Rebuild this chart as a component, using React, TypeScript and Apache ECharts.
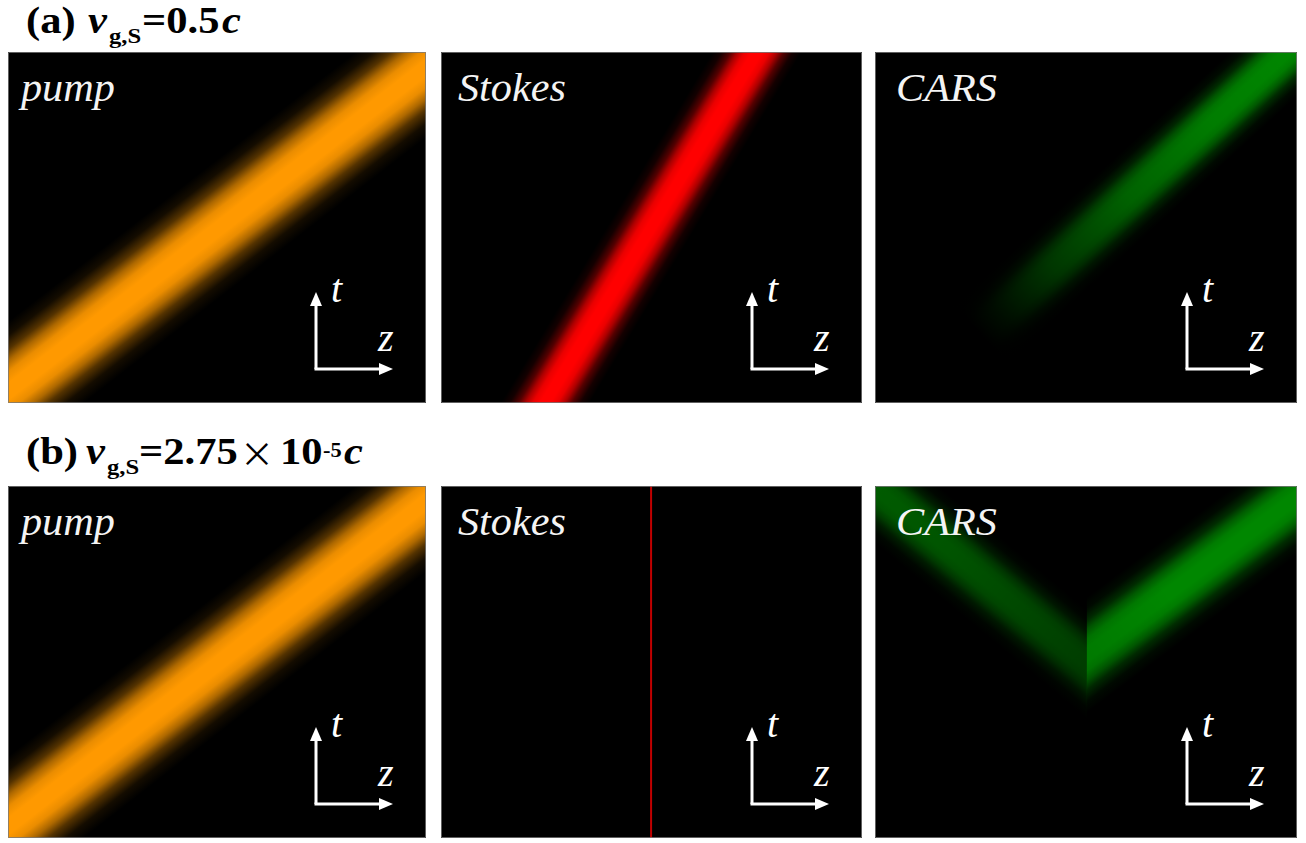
import React, { useEffect, useRef } from 'react';
import * as echarts from 'echarts';

// ---------- data ----------
const PANEL_LABELS = ['pump', 'Stokes', 'CARS'];
const AXIS_LABELS = ['t', 'z'];
const TITLE_A_PARTS = ['(a)', 'v', 'g,S', '=0.5', 'c'];
const TITLE_B_PARTS = ['(b)', 'v', 'g,S', '=2.75', '×', '10', '-5', 'c'];

const Z_EXTENT = [0, 1];
const T_EXTENT = [0, 1];

// band centre line [z0, t0, z1, t1] and vertical half width (t units)
const PUMP_LINE = [-0.15, -0.106, 1.15, 1.094];
const PUMP_HALF_WIDTH = 0.2;
const PUMP_ALONG = [[0, 1], [1, 1]];

const STOKES_A_LINE = [0.1, -0.292, 0.9, 1.295];
const STOKES_A_HALF_WIDTH = 0.21;
const STOKES_A_ALONG = [[0, 1], [1, 1]];

const STOKES_B_Z = 0.499;

const CARS_A_LINE = [-0.1, -0.189, 1.15, 1.189];
const CARS_A_HALF_WIDTH = 0.15;
const CARS_A_ALONG = [[0, 0], [0.28, 0], [0.32, 0.1], [0.416, 0.4], [0.56, 0.72], [0.72, 0.92], [0.88, 1], [1, 1]];

const CARS_B_LEFT_LINE = [-0.15, 1.144, 0.502, 0.494];
const CARS_B_LEFT_HALF_WIDTH = 0.155;
const CARS_B_LEFT_ALONG = [[0, 0.72], [0.5, 0.62], [1, 0.45]];

const CARS_B_RIGHT_LINE = [0.502, 0.52, 1.15, 1.103];
const CARS_B_RIGHT_HALF_WIDTH = 0.165;
const CARS_B_RIGHT_ALONG = [[0, 0.9], [0.3, 1], [1, 1]];

// intensity across a band (edge -> centre -> edge)
const CROSS_PROFILE = [
  [0, 0], [0.1, 0.08], [0.2, 0.33], [0.28, 0.68], [0.36, 0.92], [0.44, 1],
  [0.56, 1], [0.64, 0.92], [0.72, 0.68], [0.8, 0.33], [0.9, 0.08], [1, 0],
];

// ---------- layout & style ----------
const COL_X = [8, 441, 875];
const COL_W = [418, 421, 422];
const ROW_Y = [52, 486];
const ROW_H = [351, 352];

const PUMP_RGB = '255,153,0';
const STOKES_RGB = '255,0,0';
const CARS_RGB = '0,135,0';
const SERIF = 'Liberation Serif, Times New Roman, serif';

function baselineY(baseline: number, size: number) {
  return baseline - 0.34 * size;
}

function makeBand(gridIndex: number, line: number[], hw: number, rgb: string, along: number[][]) {
  return {
    type: 'custom',
    xAxisIndex: gridIndex,
    yAxisIndex: gridIndex,
    clip: true,
    silent: true,
    data: [[line[0], line[1], line[2], line[3], hw]],
    renderItem: (params: any, api: any) => {
      const z0 = api.value(0), t0 = api.value(1), z1 = api.value(2), t1 = api.value(3), h = api.value(4);
      const a = api.coord([z0, t0 - h]);
      const b = api.coord([z1, t1 - h]);
      const c = api.coord([z1, t1 + h]);
      const d = api.coord([z0, t0 + h]);
      const c0 = api.coord([z0, t0]);
      const c1 = api.coord([z1, t1]);
      const dx = c1[0] - c0[0], dy = c1[1] - c0[1];
      const len = Math.hypot(dx, dy);
      const nx = -dy / len, ny = dx / len;
      const hPx = Math.abs(d[1] - c0[1]);
      const perp = (hPx * Math.abs(dx)) / len;
      const cross = new echarts.graphic.LinearGradient(
        c0[0] - nx * perp, c0[1] - ny * perp, c0[0] + nx * perp, c0[1] + ny * perp,
        CROSS_PROFILE.map(([o, v]) => ({ offset: o, color: `rgba(${rgb},${v})` })),
        true
      );
      const pts = [a, b, c, d];
      const children: any[] = [{ type: 'polygon', shape: { points: pts }, style: { fill: cross } }];
      if (along.some(([, v]) => v < 1)) {
        const fade = new echarts.graphic.LinearGradient(
          c0[0], c0[1], c1[0], c1[1],
          along.map(([o, v]) => ({ offset: o, color: `rgba(0,0,0,${(1 - v).toFixed(3)})` })),
          true
        );
        children.push({ type: 'polygon', shape: { points: pts }, style: { fill: fade } });
      }
      return { type: 'group', children };
    },
  };
}

function titleParts(parts: string[], xs: number[], baselines: number[], sizes: number[], italic: boolean[]) {
  return parts.map((p, i) => {
    const cjk = p === '×';
    return {
      type: 'text',
      z: 100,
      x: xs[i],
      y: baselineY(baselines[i], sizes[i]),
      scaleX: cjk ? 1 : 1.12,
      style: {
        text: p,
        fill: '#000',
        fontFamily: cjk ? 'Noto Sans CJK SC, sans-serif' : SERIF,
        fontWeight: cjk ? 'normal' : 'bold',
        fontStyle: italic[i] ? 'italic' : 'normal',
        fontSize: sizes[i],
        verticalAlign: 'middle',
        textAlign: 'left',
      },
    };
  });
}

function buildOption() {
  const grids: any[] = [];
  const xAxes: any[] = [];
  const yAxes: any[] = [];
  const graphics: any[] = [];
  for (let r = 0; r < 2; r++) {
    for (let c = 0; c < 3; c++) {
      const gi = r * 3 + c;
      grids.push({
        left: COL_X[c], top: ROW_Y[r], width: COL_W[c], height: ROW_H[r],
        show: true, backgroundColor: '#000', borderWidth: 0,
      });
      xAxes.push({ type: 'value', gridIndex: gi, min: Z_EXTENT[0], max: Z_EXTENT[1], show: false });
      yAxes.push({ type: 'value', gridIndex: gi, min: T_EXTENT[0], max: T_EXTENT[1], show: false });

      // thin grey frame drawn above the bands
      graphics.push({
        type: 'rect', z: 90, silent: true,
        shape: { x: COL_X[c] + 0.5, y: ROW_Y[r] + 0.5, width: COL_W[c] - 1, height: ROW_H[r] - 1 },
        style: { fill: 'none', stroke: 'rgba(120,120,120,0.8)', lineWidth: 1 },
      });

      const labelDx = [13, 17, 21][c];
      graphics.push({
        type: 'text', z: 100,
        x: COL_X[c] + labelDx, y: baselineY(ROW_Y[r] + 49, 41),
        scaleX: 1.03,
        style: {
          text: PANEL_LABELS[c], fill: '#f4f4f4', fontFamily: SERIF, fontStyle: 'italic',
          fontSize: 41, verticalAlign: 'middle', textAlign: 'left',
        },
      });

      const cx = COL_X[c] + COL_W[c] - 110;
      const cy = ROW_Y[r] + ROW_H[r] - 34;
      const L = 77;
      graphics.push(
        { type: 'line', z: 100, shape: { x1: cx, y1: cy, x2: cx, y2: cy - L + 10 }, style: { stroke: '#fff', lineWidth: 3 } },
        { type: 'line', z: 100, shape: { x1: cx - 1.5, y1: cy, x2: cx + L - 10, y2: cy }, style: { stroke: '#fff', lineWidth: 3 } },
        { type: 'polygon', z: 100, shape: { points: [[cx, cy - L], [cx - 6, cy - L + 14], [cx + 6, cy - L + 14]] }, style: { fill: '#fff' } },
        { type: 'polygon', z: 100, shape: { points: [[cx + L, cy], [cx + L - 14, cy - 6], [cx + L - 14, cy + 6]] }, style: { fill: '#fff' } },
        {
          type: 'text', z: 100, x: cx + 15, y: baselineY(cy - 67, 40),
          style: { text: AXIS_LABELS[0], fill: '#fff', fontFamily: SERIF, fontStyle: 'italic', fontSize: 40, verticalAlign: 'middle' },
        },
        {
          type: 'text', z: 100, x: cx + 62, y: baselineY(cy - 18, 40),
          style: { text: AXIS_LABELS[1], fill: '#fff', fontFamily: SERIF, fontStyle: 'italic', fontSize: 40, verticalAlign: 'middle' },
        }
      );
    }
  }

  graphics.push(
    ...titleParts(TITLE_A_PARTS, [26, 88, 109, 142, 222], [33, 33, 43, 33, 33], [38, 38, 22, 38, 38], [false, true, false, false, true]),
    ...titleParts(TITLE_B_PARTS, [26, 86, 107, 139, 240, 280, 323, 344], [464, 464, 474, 464, 464, 464, 457, 464], [38, 38, 22, 38, 34, 38, 20, 38], [false, true, false, false, false, false, false, true])
  );

  const series: any[] = [
    makeBand(0, PUMP_LINE, PUMP_HALF_WIDTH, PUMP_RGB, PUMP_ALONG),
    makeBand(1, STOKES_A_LINE, STOKES_A_HALF_WIDTH, STOKES_RGB, STOKES_A_ALONG),
    makeBand(2, CARS_A_LINE, CARS_A_HALF_WIDTH, CARS_RGB, CARS_A_ALONG),
    makeBand(3, PUMP_LINE, PUMP_HALF_WIDTH, PUMP_RGB, PUMP_ALONG),
    {
      type: 'line', xAxisIndex: 4, yAxisIndex: 4, symbol: 'none', silent: true,
      data: [[STOKES_B_Z, T_EXTENT[0]], [STOKES_B_Z, T_EXTENT[1]]],
      lineStyle: { color: '#c00000', width: 2 },
    },
    makeBand(5, CARS_B_LEFT_LINE, CARS_B_LEFT_HALF_WIDTH, CARS_RGB, CARS_B_LEFT_ALONG),
    makeBand(5, CARS_B_RIGHT_LINE, CARS_B_RIGHT_HALF_WIDTH, CARS_RGB, CARS_B_RIGHT_ALONG),
  ];

  return {
    animation: false,
    backgroundColor: '#fff',
    grid: grids,
    xAxis: xAxes,
    yAxis: yAxes,
    series,
    graphic: { elements: graphics },
  };
}

export default function App() {
  const ref = useRef<HTMLDivElement>(null);
  useEffect(() => {
    if (!ref.current) return;
    const chart = echarts.init(ref.current, undefined, { renderer: 'svg' });
    chart.setOption(buildOption() as any);
    return () => chart.dispose();
  }, []);
  return (
    <div
      ref={ref}
      style={{ position: 'fixed', left: 0, top: 0, width: 1306, height: 843, background: '#fff' }}
    />
  );
}
